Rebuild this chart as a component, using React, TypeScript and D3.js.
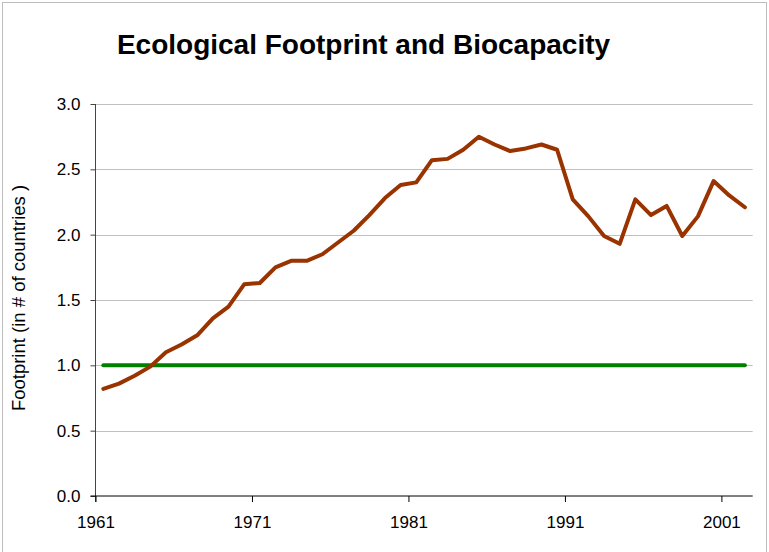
import { useEffect, useRef } from "react";
import * as d3 from "d3";

// years of the footprint series (1961..2002)
const years: number[] = d3.range(1961, 2003);

// ecological footprint, in number of earths / countries
const footprint: number[] = [
  0.82, 0.86, 0.92, 0.99, 1.10, 1.16, 1.23, 1.36, 1.45, 1.62,
  1.63, 1.75, 1.80, 1.80, 1.85, 1.94, 2.03, 2.15, 2.28, 2.38,
  2.40, 2.57, 2.58, 2.65, 2.75, 2.69, 2.64, 2.66, 2.69, 2.65,
  2.27, 2.14, 1.99, 1.93, 2.27, 2.15, 2.22, 1.99, 2.14, 2.41,
  2.30, 2.21,
];

// biocapacity stays at one country
const biocapacity: number[] = years.map(() => 1.0);

const yTicks: number[] = [0, 0.5, 1.0, 1.5, 2.0, 2.5, 3.0];
const xTickYears: number[] = [1961, 1971, 1981, 1991, 2001];

const title = "Ecological Footprint and Biocapacity";
const yLabel = "Footprint (in # of countries )";

export default function App() {
  const svgRef = useRef<SVGSVGElement>(null);
  const svgWidth = 769;
  const svgHeight = 552;

  useEffect(() => {
    const svg = d3.select(svgRef.current);
    svg.selectAll("*").remove();

    const left = 95.5;
    const right = 752.7;
    const top = 104;
    const bottom = 496;
    const font = "'Liberation Sans', Arial, sans-serif";

    // categories sit between ticks, so the scale runs one year past the data
    const x = d3.scaleLinear().domain([1961, 2003]).range([left, right]);
    const y = d3.scaleLinear().domain([0, 3]).range([bottom, top]);

    // outer frame
    svg.append("rect")
      .attr("x", 2.5).attr("y", 2.5)
      .attr("width", svgWidth - 5).attr("height", svgHeight + 20)
      .attr("fill", "white")
      .attr("stroke", "#bdbdbd");

    // title
    svg.append("text")
      .attr("x", 363.5)
      .attr("y", 54)
      .attr("text-anchor", "middle")
      .style("font-family", font)
      .style("font-size", "28px")
      .style("font-weight", "bold")
      .text(title);

    // gridlines
    svg.append("g")
      .selectAll("line")
      .data(yTicks.filter(d => d > 0))
      .join("line")
      .attr("x1", left).attr("x2", right)
      .attr("y1", d => Math.round(y(d)) + 0.5)
      .attr("y2", d => Math.round(y(d)) + 0.5)
      .attr("stroke", "#c0c0c0")
      .attr("stroke-width", 1);

    // y axis
    const yAxis = svg.append("g")
      .attr("transform", `translate(${left},0)`)
      .call(d3.axisLeft(y).tickValues(yTicks).tickFormat(d3.format(".1f")).tickSize(5).tickPadding(10));
    yAxis.select(".domain").remove();
    yAxis.append("line")
      .attr("x1", 0).attr("x2", 0)
      .attr("y1", top).attr("y2", bottom + 6)
      .attr("stroke", "#444");
    yAxis.selectAll(".tick line").attr("stroke", "#444");
    yAxis.selectAll("text")
      .style("font-family", font)
      .style("font-size", "17px")
      .attr("fill", "black");

    // x axis
    const xAxis = svg.append("g")
      .attr("transform", `translate(0,${bottom})`)
      .call(d3.axisBottom(x).tickValues(xTickYears).tickFormat(d3.format("d")).tickSize(6).tickPadding(14));
    xAxis.select(".domain").remove();
    xAxis.append("line")
      .attr("x1", left - 5).attr("x2", right)
      .attr("y1", 0).attr("y2", 0)
      .attr("stroke", "black");
    xAxis.selectAll(".tick line").attr("stroke", "black");
    xAxis.selectAll("text")
      .style("font-family", font)
      .style("font-size", "17px")
      .attr("fill", "black");

    // y label
    svg.append("text")
      .attr("transform", `translate(25,298) rotate(-90)`)
      .attr("text-anchor", "middle")
      .style("font-family", font)
      .style("font-size", "18.5px")
      .text(yLabel);

    const line = d3.line<number>()
      .x((_, i) => x(years[i] + 0.5))
      .y(d => y(d));

    svg.append("path")
      .datum(biocapacity)
      .attr("d", line)
      .attr("fill", "none")
      .attr("stroke", "#008000")
      .attr("stroke-width", 4)
      .attr("stroke-linecap", "round");

    svg.append("path")
      .datum(footprint)
      .attr("d", line)
      .attr("fill", "none")
      .attr("stroke", "#993300")
      .attr("stroke-width", 4)
      .attr("stroke-linejoin", "round")
      .attr("stroke-linecap", "round");
  }, []);

  return (
    <div style={{ position: "absolute", left: 0, top: 0 }}>
      <svg width={svgWidth} height={svgHeight} ref={svgRef}></svg>
    </div>
  );
}
